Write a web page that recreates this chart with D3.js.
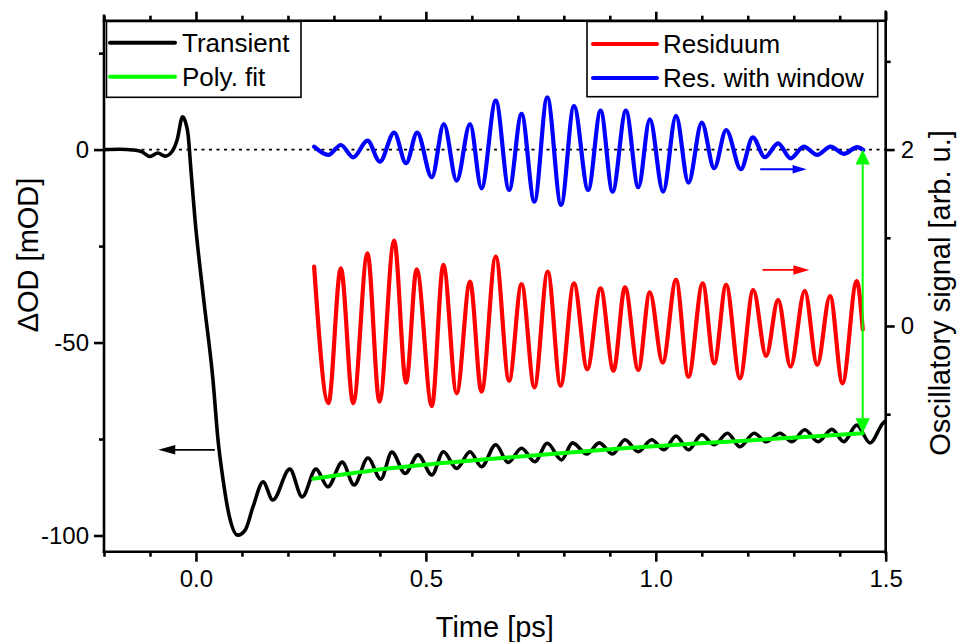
<!DOCTYPE html>
<html>
<head>
<meta charset="utf-8">
<script src="https://cdn.jsdelivr.net/npm/d3@7"></script>
<style>
  body { margin: 0; background: #fff; }
  svg { display: block; }
  text { font-family: "Liberation Sans", Arial, sans-serif; fill: #000; }
</style>
</head>
<body>
<svg id="chart" width="958" height="642"></svg>
<script>
// Transient absorption trace (time in ps, ΔOD in mOD)
const transientTime = [-0.200, -0.165, -0.137, -0.117, -0.100, -0.083, -0.067, -0.052, -0.041, -0.029, -0.023, -0.017, -0.011, -0.002,
  0.017, 0.037, 0.048, 0.059, 0.072, 0.091, 0.107, 0.124, 0.146, 0.167, 0.204, 0.231, 0.261, 0.287, 0.318, 0.344, 0.374, 0.402, 0.426,
  0.455, 0.483, 0.513, 0.538, 0.567, 0.596, 0.621, 0.652, 0.679, 0.708, 0.737, 0.764, 0.795, 0.819, 0.850, 0.877, 0.906, 0.933,
  0.962, 0.991, 1.018, 1.044, 1.071, 1.100, 1.127, 1.156, 1.183, 1.214, 1.240, 1.270, 1.296, 1.324, 1.353, 1.383, 1.409, 1.437,
  1.466, 1.494, 1.500];
const transientOD = [0, 0.1, -0.1, -0.6, -1.8, -0.9, -1.7, -0.5, 2.5, 8.5, 7.2, 3.8, -5.2, -18.2,
  -39.0, -59.7, -75.3, -85.6, -94.7, -99.9, -98.6, -92.6, -86.1, -90.8, -82.8, -90.0, -82.8, -87.4, -81.0, -86.9, -79.9, -85.4, -78.4,
  -83.9, -79.1, -84.3, -78.3, -82.6, -78.3, -82.2, -76.5, -81.1, -77.4, -80.9, -76.1, -80.4, -76.0, -78.9, -76.0, -78.9, -75.2,
  -78.3, -75.2, -77.8, -74.2, -77.8, -73.9, -76.5, -73.5, -77.0, -73.5, -75.7, -73.5, -75.7, -72.6, -75.7, -72.5, -75.7, -71.4,
  -76.0, -70.9, -70.3];

// Polynomial background fit
const fitTime = [0.255, 0.422, 0.676, 0.929, 1.183, 1.450];
const fitOD = [-85.3, -82.6, -79.8, -77.4, -75.5, -73.5];

// Residuum (oscillatory part, arb. u.)
const residuumTime = [0.257, 0.288, 0.315, 0.342, 0.373, 0.399, 0.431, 0.457, 0.480, 0.513, 0.538, 0.567, 0.596, 0.621, 0.652,
  0.681, 0.708, 0.736, 0.765, 0.793, 0.822, 0.851, 0.880, 0.908, 0.933, 0.962, 0.987, 1.015, 1.044, 1.071, 1.102, 1.127, 1.153,
  1.183, 1.212, 1.240, 1.266, 1.293, 1.324, 1.351, 1.379, 1.406, 1.437, 1.450];
const residuumSignal = [0.672, -0.876, 0.654, -0.876, 0.824, -0.858, 0.967, -0.643, 0.643, -0.907, 0.692, -0.763, 0.502, -0.745, 0.786,
  -0.620, 0.476, -0.695, 0.616, -0.677, 0.484, -0.491, 0.427, -0.507, 0.439, -0.499, 0.382, -0.416, 0.522, -0.575, 0.484, -0.423, 0.465,
  -0.593, 0.408, -0.340, 0.295, -0.461, 0.397, -0.442, 0.340, -0.650, 0.510, -0.037];

// Residuum multiplied by a window function, shifted by +2
const windowTime = [0.257, 0.288, 0.315, 0.342, 0.373, 0.400, 0.431, 0.457, 0.481, 0.513, 0.539, 0.567, 0.596, 0.621, 0.652,
  0.681, 0.708, 0.736, 0.764, 0.794, 0.822, 0.853, 0.880, 0.906, 0.935, 0.962, 0.987, 1.016, 1.044, 1.071, 1.100, 1.127, 1.153,
  1.185, 1.211, 1.237, 1.266, 1.293, 1.322, 1.351, 1.380, 1.409, 1.438, 1.451];
const windowSignal = [2.033, 1.939, 2.052, 1.912, 2.101, 1.863, 2.192, 1.845, 2.192, 1.686, 2.290, 1.647, 2.290, 1.561, 2.554,
  1.542, 2.404, 1.409, 2.593, 1.372, 2.494, 1.542, 2.441, 1.523, 2.441, 1.573, 2.344, 1.523, 2.381, 1.625, 2.305, 1.788, 2.222,
  1.777, 2.139, 1.913, 2.071, 1.901, 2.033, 1.939, 2.033, 1.952, 2.028, 1.995];

// Axis ticks
const timeMajorTicks = [0, 0.5, 1.0, 1.5];
const timeMinorTicks = [-0.2, -0.1, 0.1, 0.2, 0.3, 0.4, 0.6, 0.7, 0.8, 0.9, 1.1, 1.2, 1.3, 1.4];
const odMajorTicks = [0, -50, -100];
const odMinorTicks = [25, -25, -75];
const signalMajorTicks = [0, 2];
const signalMinorTicks = [-1, 1, 3];

// Legend entries
const legendLeft = [
  { label: "Transient", color: "#000000" },
  { label: "Poly. fit", color: "#00ff00" }
];
const legendRight = [
  { label: "Residuum", color: "#ff0000" },
  { label: "Res. with window", color: "#0000ff" }
];

const svg = d3.select("#chart");
const plotLeft = 104, plotRight = 885.7, plotTop = 20.7, plotBottom = 551.7;

const x = d3.scaleLinear().domain([-0.2, 1.5]).range([plotLeft, plotRight]);
const yOD = d3.scaleLinear().domain([-104.2, 33.4]).range([plotBottom, plotTop]);
const ySig = d3.scaleLinear().domain([-2.559, 3.461]).range([plotBottom, plotTop]);

// integer labels with a plain hyphen as minus sign
const intFormat = d => String(Math.round(d));

svg.append("defs").append("clipPath").attr("id", "plotClip")
  .append("rect").attr("x", plotLeft).attr("y", plotTop)
  .attr("width", plotRight - plotLeft).attr("height", plotBottom - plotTop);

const plot = svg.append("g").attr("clip-path", "url(#plotClip)");

// dotted zero line
plot.append("line")
  .attr("x1", x(-0.2)).attr("x2", x(1.5))
  .attr("y1", yOD(0)).attr("y2", yOD(0))
  .attr("stroke", "#000").attr("stroke-width", 1.6).attr("stroke-dasharray", "3,4.5");

function drawLine(ts, vs, yScale, color, width) {
  const pts = ts.map((t, i) => [t, vs[i]]);
  plot.append("path")
    .datum(pts)
    .attr("fill", "none")
    .attr("stroke", color)
    .attr("stroke-width", width)
    .attr("stroke-linejoin", "round")
    .attr("stroke-linecap", "round")
    .attr("d", d3.line().x(d => x(d[0])).y(d => yScale(d[1])).curve(d3.curveMonotoneX));
}

drawLine(transientTime, transientOD, yOD, "#000000", 3.6);
drawLine(fitTime, fitOD, yOD, "#00ff00", 4);
drawLine(residuumTime, residuumSignal, ySig, "#ff0000", 4.2);
drawLine(windowTime, windowSignal, ySig, "#0000ff", 4.2);

// arrows
function arrowH(t0, t1, yPix, color, width, headLen, headHalf) {
  const x0 = x(t0), x1 = x(t1);
  const dir = Math.sign(x1 - x0);
  svg.append("line").attr("x1", x0).attr("x2", x1 - dir * headLen * 0.6)
    .attr("y1", yPix).attr("y2", yPix).attr("stroke", color).attr("stroke-width", width);
  svg.append("path")
    .attr("d", `M${x1},${yPix} L${x1 - dir * headLen},${yPix - headHalf} L${x1 - dir * headLen},${yPix + headHalf} Z`)
    .attr("fill", color);
}
arrowH(0.041, -0.082, yOD(-77.8), "#000", 1.8, 17, 4.8);
arrowH(1.227, 1.328, ySig(1.777), "#0000ff", 1.8, 14, 4.3);
arrowH(1.232, 1.334, ySig(0.635), "#ff0000", 1.8, 16, 4.7);

// double-headed green arrow between windowed residuum end and fit end
(function () {
  const xa = x(1.45);
  const yTop = ySig(2), yBot = yOD(-73.5);
  const hl = 15, hw = 7.2;
  svg.append("line").attr("x1", xa).attr("x2", xa).attr("y1", yTop + hl).attr("y2", yBot - hl)
    .attr("stroke", "#00ff00").attr("stroke-width", 2);
  svg.append("path").attr("d", `M${xa},${yTop} L${xa - hw},${yTop + hl} L${xa + hw},${yTop + hl} Z`).attr("fill", "#00ff00");
  svg.append("path").attr("d", `M${xa},${yBot} L${xa - hw},${yBot - hl} L${xa + hw},${yBot - hl} Z`).attr("fill", "#00ff00");
})();

// axes
const axisW = 2.6;
function styleAxis(g) {
  g.selectAll("path.domain").remove();
  g.selectAll(".tick line").attr("stroke", "#000").attr("stroke-width", axisW);
  g.selectAll("text").attr("font-size", 24).attr("font-family", "Liberation Sans, Arial, sans-serif");
}

// bottom
svg.append("g").attr("transform", `translate(0,${plotBottom})`)
  .call(d3.axisBottom(x).tickValues(timeMajorTicks).tickSize(10).tickPadding(8).tickFormat(d3.format(".1f")))
  .call(styleAxis);
svg.append("g").attr("transform", `translate(0,${plotBottom})`)
  .call(d3.axisBottom(x).tickValues(timeMinorTicks).tickSize(5).tickFormat(""))
  .call(styleAxis);
// top
svg.append("g").attr("transform", `translate(0,${plotTop})`)
  .call(d3.axisTop(x).tickValues(timeMajorTicks).tickSize(9).tickFormat(""))
  .call(styleAxis);
svg.append("g").attr("transform", `translate(0,${plotTop})`)
  .call(d3.axisTop(x).tickValues(timeMinorTicks).tickSize(5).tickFormat(""))
  .call(styleAxis);
// left
svg.append("g").attr("transform", `translate(${plotLeft},0)`)
  .call(d3.axisLeft(yOD).tickValues(odMajorTicks).tickSize(10).tickPadding(5).tickFormat(intFormat))
  .call(styleAxis);
svg.append("g").attr("transform", `translate(${plotLeft},0)`)
  .call(d3.axisLeft(yOD).tickValues(odMinorTicks).tickSize(5).tickFormat(""))
  .call(styleAxis);
// right
svg.append("g").attr("transform", `translate(${plotRight},0)`)
  .call(d3.axisRight(ySig).tickValues(signalMajorTicks).tickSize(9).tickPadding(6).tickFormat(intFormat))
  .call(styleAxis);
svg.append("g").attr("transform", `translate(${plotRight},0)`)
  .call(d3.axisRight(ySig).tickValues(signalMinorTicks).tickSize(5).tickFormat(""))
  .call(styleAxis);

// frame lines
const frame = svg.append("g").attr("stroke", "#000").attr("stroke-width", axisW).attr("stroke-linecap", "square");
frame.append("line").attr("x1", plotLeft).attr("x2", plotRight).attr("y1", plotBottom).attr("y2", plotBottom);
frame.append("line").attr("x1", plotLeft).attr("x2", plotRight).attr("y1", plotTop).attr("y2", plotTop);
frame.append("line").attr("x1", plotLeft).attr("x2", plotLeft).attr("y1", plotTop - 5).attr("y2", plotBottom);
frame.append("line").attr("x1", plotRight).attr("x2", plotRight).attr("y1", plotTop - 9).attr("y2", plotBottom + 1);

// axis titles
svg.append("text").attr("x", x(0.65)).attr("y", 637).attr("text-anchor", "middle")
  .attr("font-size", 29).text("Time [ps]");
svg.append("text").attr("transform", `translate(38,255) rotate(-90)`).attr("text-anchor", "middle")
  .attr("font-size", 29).text("ΔOD [mOD]");
svg.append("text").attr("transform", `translate(930,293) rotate(-90)`).attr("text-anchor", "middle")
  .attr("dy", "0.7em").attr("font-size", 29).text("Oscillatory signal [arb. u.]");

// legends
function legend(items, bx, by, bw, bh, lineX0, lineX1, textX, rowY0, rowStep) {
  const g = svg.append("g");
  g.append("rect").attr("x", bx).attr("y", by).attr("width", bw).attr("height", bh)
    .attr("fill", "#fff").attr("stroke", "#000").attr("stroke-width", 1.6);
  items.forEach((d, i) => {
    const yy = rowY0 + i * rowStep;
    g.append("line").attr("x1", lineX0).attr("x2", lineX1).attr("y1", yy).attr("y2", yy)
      .attr("stroke", d.color).attr("stroke-width", 4).attr("stroke-linecap", "round");
    g.append("text").attr("x", textX).attr("y", yy).attr("dy", "0.36em").attr("font-size", 26).text(d.label);
  });
}
legend(legendLeft, 106.5, 21.5, 194.5, 75.8, 110, 175, 182, 42.7, 34);
legend(legendRight, 587, 21.5, 290.7, 75.2, 593, 657, 663, 44, 34);
</script>
</body>
</html>
